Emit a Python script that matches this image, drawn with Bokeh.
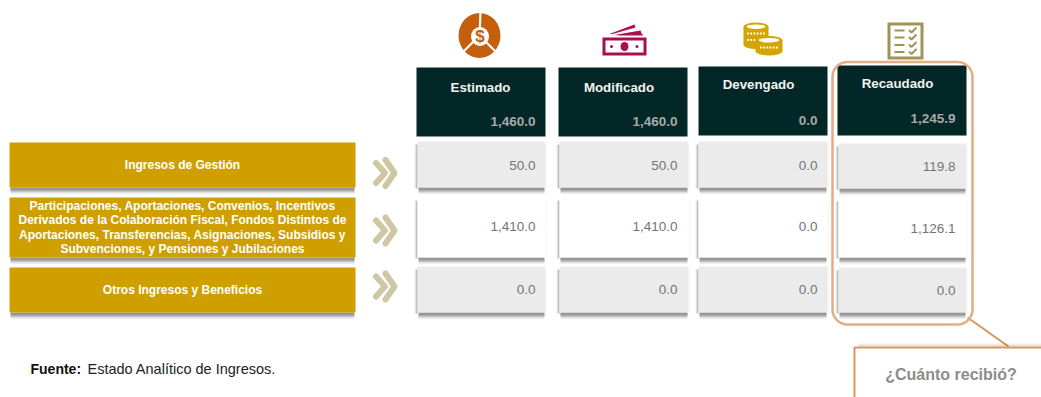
from bokeh.plotting import figure
from bokeh.models import Range1d, BoxAnnotation
from bokeh.core.properties import value
from bokeh.embed import file_html
from bokeh.resources import INLINE

# ---------- data ----------
columns = ["Estimado", "Modificado", "Devengado", "Recaudado"]
totals = [1460.0, 1460.0, 0.0, 1245.9]
row_labels = [
    ["Ingresos de Gestión"],
    ["Participaciones, Aportaciones, Convenios, Incentivos",
     "Derivados de la Colaboración Fiscal, Fondos Distintos de",
     "Aportaciones, Transferencias, Asignaciones, Subsidios y",
     "Subvenciones, y Pensiones y Jubilaciones"],
    ["Otros Ingresos y Beneficios"],
]
estimado = [50.0, 1410.0, 0.0]
modificado = [50.0, 1410.0, 0.0]
devengado = [0.0, 0.0, 0.0]
recaudado = [119.8, 1126.1, 0.0]
series = [estimado, modificado, devengado, recaudado]
source_bold = "Fuente:"
source_text = "Estado Analítico de Ingresos."
callout = "¿Cuánto recibió?"

# ---------- layout (page pixels of the reference) ----------
FONT = value("Liberation Sans")
p = figure(width=1041, height=397, x_range=Range1d(0, 1041), y_range=Range1d(397, 0),
           output_backend="svg", toolbar_location=None, min_border=0)
p.axis.visible = False
p.grid.visible = False
p.outline_line_color = None
p.background_fill_color = "white"

HEAD = [(416, 545, 67, 136), (558, 687, 67, 136), (698, 827, 66, 135), (837, 966, 65, 135)]
HEAD_TITLE_Y = [87, 87, 84, 83]
HEAD_TITLE_X = [480, 618.5, 758, 897]
HEAD_VAL_Y = [121, 121, 120, 118]
HEAD_VAL_R = [535, 677, 817, 955]
CELL_X = [(417, 545), (559, 688), (698, 827), (838, 966)]
CELL_Y = [[(141, 187), (197, 257), (266, 312)]] * 3 + [[(143, 188), (198, 257), (267, 312)]]
CELL_TXT_Y = [[164.5, 226, 288.5]] * 3 + [[165.5, 227.5, 289.5]]
CELL_FILL = ["#EBEBEB", "#FFFFFF", "#EBEBEB"]
GOLD_X = (9, 355)
GOLD_Y = [(142, 187), (197, 257), (267, 312)]
CHEV_Y = [172.5, 230, 286]
SHADOW_BANDS = [(7, .03), (6, .06), (5, .09), (4, .13), (3, .13), (2, .05), (1, .03)]


def shadow(l, r, t, b):
    for d, a in SHADOW_BANDS:
        p.quad(left=[l + 1], right=[r - 1], top=[b], bottom=[b + d], fill_color="#000000",
               fill_alpha=a, line_color=None)
    for d, a in [(3, .06), (2, .12), (1, .18)]:
        p.quad(left=[l - d], right=[l], top=[t + 3], bottom=[b + 1], fill_color="#000000",
               fill_alpha=a, line_color=None)
    p.quad(left=[r], right=[r + 1], top=[t + 3], bottom=[b + 1], fill_color="#000000",
           fill_alpha=.05, line_color=None)


# gold row labels
for (t, b), lines in zip(GOLD_Y, row_labels):
    for d, a in SHADOW_BANDS:
        p.quad(left=[GOLD_X[0] + 1], right=[GOLD_X[1] - 1], top=[b], bottom=[b + d],
               fill_color="#000000", fill_alpha=a, line_color=None)
    p.quad(left=[GOLD_X[0]], right=[GOLD_X[1]], top=[t], bottom=[b], fill_color="#CF9F00", line_color=None)
    n = len(lines)
    step = 14.4
    yc = (t + b) / 2 - (0.5 if n == 1 else 0)
    ys = [yc + (i - (n - 1) / 2) * step for i in range(n)]
    p.text(x=[182] * n, y=ys, text=lines, text_font=FONT, text_font_style="bold",
           text_font_size="12px", text_color="#FFFFFF", text_align="center", text_baseline="middle")

# chevrons
for yc in CHEV_Y:
    p.line(x=[375.5, 384.5, 375.5], y=[yc - 10, yc, yc + 10], line_color="#CFC7A3", line_width=6,
           line_join="round", line_cap="round")
    p.line(x=[385, 394, 385], y=[yc - 13, yc, yc + 13], line_color="#CFC7A3", line_width=6,
           line_join="round", line_cap="round")

# cells
for c, vals in enumerate(series):
    l, r = CELL_X[c]
    for i, v in enumerate(vals):
        t, b = CELL_Y[c][i]
        shadow(l, r, t, b)
        p.quad(left=[l], right=[r], top=[t], bottom=[b], fill_color=CELL_FILL[i], line_color=None)
        p.text(x=[HEAD_VAL_R[c]], y=[CELL_TXT_Y[c][i]], text=[f"{v:,.1f}"], text_font=FONT,
               text_font_size="13.5px", text_color="#747474", text_align="right", text_baseline="middle")

# header blocks
for c, name in enumerate(columns):
    l, r, t, b = HEAD[c]
    p.quad(left=[l], right=[r], top=[t], bottom=[b], fill_color="#022726", line_color=None)
    p.text(x=[HEAD_TITLE_X[c]], y=[HEAD_TITLE_Y[c]], text=[name], text_font=FONT, text_font_style="bold",
           text_font_size="13.3px", text_color="#F2F2F2", text_align="center", text_baseline="middle")
    p.text(x=[HEAD_VAL_R[c]], y=[HEAD_VAL_Y[c]], text=[f"{totals[c]:,.1f}"], text_font=FONT, text_font_style="bold",
           text_font_size="13.5px", text_color="#A6A9A8", text_align="right", text_baseline="middle")

# ---- icon 1: pie with dollar ----
ORANGE = "#C55F0C"
p.ellipse(x=[479], y=[35], width=[42], height=[45], fill_color=ORANGE, line_color=None)
for ex, ey in [(480, 12), (462, 52), (496, 52)]:
    p.line(x=[479, ex], y=[35, ey], line_color="white", line_width=2.2)
p.ellipse(x=[479.5], y=[36], width=[18], height=[19], fill_color="white", line_color=None)
p.text(x=[479.5], y=[36], text=["$"], text_font=FONT, text_font_style="bold", text_font_size="17px",
       text_color=ORANGE, text_align="center", text_baseline="middle")

# ---- icon 2: banknotes ----
CRIM = "#A80F52"
p.patch(x=[609, 634, 635, 612], y=[33.5, 24, 27, 33.5], fill_color=CRIM, line_color=None)
p.patch(x=[614, 640, 641, 643, 620], y=[34.5, 30, 33, 35, 35], fill_color=CRIM, line_color=None)
p.quad(left=[602], right=[646], top=[37], bottom=[55], fill_color=CRIM, line_color=None)
p.quad(left=[605], right=[643], top=[40], bottom=[52], fill_color="white", line_color=None)
p.ellipse(x=[624], y=[46], width=[8], height=[9], fill_color=CRIM, line_color=None)
p.ellipse(x=[611, 636.5], y=[46, 46], width=[3, 3], height=[3, 3], fill_color=CRIM, line_color=None)

# ---- icon 3: coins ----
GOLD = "#D4A400"
for cx, top, bot, w, rows in [(755.5, 26.5, 44, 25, [33, 39.5]), (768.5, 40, 50.5, 27, [47])]:
    p.quad(left=[cx - w / 2], right=[cx + w / 2], top=[top], bottom=[bot], fill_color=GOLD, line_color=None)
    p.ellipse(x=[cx], y=[bot], width=[w], height=[9], fill_color=GOLD, line_color=None)
    p.ellipse(x=[cx], y=[top], width=[w], height=[9], fill_color=GOLD, line_color=None)
    p.ellipse(x=[cx], y=[top - .3], width=[w - 6], height=[4.5], fill_color="white", line_color=None)
    for yy in rows:
        p.scatter(x=[cx - 8 + k * 3.2 for k in range(6)], y=[yy] * 6, marker="square", size=1.8,
                  fill_color="white", line_color=None)

# ---- icon 4: checklist ----
OLIVE = "#A09358"
p.quad(left=[887], right=[923], top=[22], bottom=[59], fill_color=OLIVE, line_color=None)
p.quad(left=[890], right=[920], top=[25], bottom=[56], fill_color="white", line_color=None)
for yy in [30, 37, 44.5, 51.5]:
    p.line(x=[894, 904], y=[yy, yy], line_color=OLIVE, line_width=2)
    p.line(x=[908.5, 911, 916], y=[yy - .5, yy + 2, yy - 3], line_color=OLIVE, line_width=2)

# highlight
p.add_layout(BoxAnnotation(left=832, right=972, top=61.5, bottom=324, border_radius=15,
                           fill_alpha=0, line_color="#E3AC84", line_width=2.5, line_alpha=1))

# callout
p.line(x=[967, 1008], y=[317, 346], line_color="#D9955E", line_width=2)
for d, a in [(4, .02), (3, .03), (2, .04), (1, .05)]:
    p.quad(left=[858], right=[1041], top=[346 - d], bottom=[346], fill_color="#000000", fill_alpha=a, line_color=None)
p.quad(left=[854], right=[1050], top=[347], bottom=[405], fill_color="white", line_color="#D9955E", line_width=2)
p.text(x=[950.5], y=[374], text=[callout], text_font=FONT, text_font_style="bold", text_font_size="16px",
       text_color="#8C8C8C", text_align="center", text_baseline="middle")

# source note
p.text(x=[30], y=[368], text=[source_bold], text_font=FONT, text_font_style="bold", text_font_size="14px",
       text_color="#111111", text_align="left", text_baseline="middle")
p.text(x=[87], y=[368], text=[source_text], text_font=FONT, text_font_size="14.5px",
       text_color="#222222", text_align="left", text_baseline="middle")

open("out.html", "w").write(file_html(p, INLINE))
